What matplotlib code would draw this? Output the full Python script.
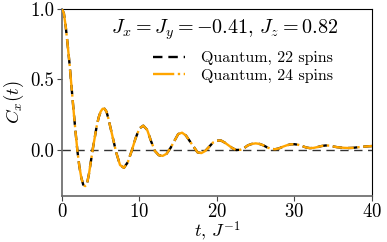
import matplotlib
matplotlib.use("Agg")
import matplotlib.pyplot as plt

plt.rcParams['font.family'] = 'serif'
plt.rcParams['font.serif'] = ['cmr10']
plt.rcParams['mathtext.fontset'] = 'cm'
plt.rcParams['axes.formatter.use_mathtext'] = True
plt.rcParams['axes.unicode_minus'] = True

t = [0, 0.25, 0.5, 0.75, 1.0, 1.25, 1.5, 1.75, 2.0, 2.25, 2.5, 2.75, 3.0, 3.25, 3.5, 3.75,
     4.0, 4.25, 4.5, 4.75, 5.0, 5.25, 5.5, 5.75, 6.0, 6.5, 7.0, 7.5, 8.0, 8.5, 9.0, 9.5,
     10.0, 10.5, 11.0, 11.5, 12.0, 12.5, 13.0, 13.5, 14.0, 14.5, 15.0, 15.5, 16.0, 16.5,
     17.0, 17.5, 18.0, 18.5, 19.0, 19.5, 20.0, 20.5, 21.0, 21.5, 22.0, 22.5, 23.0, 23.5,
     24.0, 24.5, 25.0, 25.5, 26.0, 26.5, 27.0, 27.5, 28.0, 28.5, 29.0, 29.5, 30.0, 30.5,
     31.0, 31.5, 32.0, 32.5, 33.0, 33.5, 34.0, 34.5, 35.0, 35.5, 36.0, 36.5, 37.0, 37.5,
     38.0, 38.5, 39.0, 39.5, 40.0]
c22 = [1.0, 0.97, 0.87, 0.74, 0.60, 0.44, 0.28, 0.13, -0.01, -0.12, -0.20, -0.25, -0.26,
       -0.24, -0.17, -0.08, 0.01, 0.09, 0.17, 0.23, 0.27, 0.29, 0.29, 0.27, 0.22, 0.10,
       -0.02, -0.11, -0.13, -0.09, -0.01, 0.08, 0.15, 0.17, 0.14, 0.06, -0.01, -0.04,
       -0.045, -0.03, 0.01, 0.06, 0.11, 0.12, 0.10, 0.06, 0.02, -0.02, -0.025, -0.01,
       0.02, 0.05, 0.063, 0.065, 0.05, 0.03, 0.01, -0.003, -0.002, 0.01, 0.03, 0.04,
       0.042, 0.04, 0.03, 0.015, 0.005, 0.002, 0.008, 0.02, 0.03, 0.037, 0.038, 0.034,
       0.025, 0.015, 0.01, 0.012, 0.018, 0.025, 0.029, 0.027, 0.022, 0.017, 0.014, 0.012,
       0.011, 0.012, 0.015, 0.018, 0.021, 0.023, 0.025]
c24 = [1.0, 0.97, 0.87, 0.74, 0.60, 0.44, 0.28, 0.13, -0.01, -0.12, -0.20, -0.25, -0.26,
       -0.24, -0.17, -0.08, 0.01, 0.09, 0.17, 0.23, 0.27, 0.29, 0.29, 0.27, 0.22, 0.10,
       -0.02, -0.11, -0.13, -0.09, -0.01, 0.08, 0.15, 0.17, 0.14, 0.06, -0.01, -0.04,
       -0.045, -0.03, 0.01, 0.06, 0.11, 0.12, 0.10, 0.06, 0.02, -0.02, -0.025, -0.01,
       0.02, 0.05, 0.063, 0.065, 0.05, 0.03, 0.01, -0.003, -0.002, 0.01, 0.03, 0.04,
       0.044, 0.04, 0.03, 0.015, 0.005, 0.002, 0.008, 0.02, 0.03, 0.037, 0.038, 0.034,
       0.025, 0.015, 0.01, 0.012, 0.018, 0.025, 0.03, 0.028, 0.022, 0.017, 0.014, 0.012,
       0.011, 0.012, 0.015, 0.018, 0.021, 0.023, 0.025]

labels = ['Quantum, 22 spins', 'Quantum, 24 spins']
title = r'$J_x = J_y = -0.41,\, J_z = 0.82$'

fig = plt.figure(figsize=(3.87, 2.42), dpi=100)
ax = fig.add_axes([0.160, 0.192, 0.801, 0.771])

ax.axhline(0, color='#333333', lw=1.0, ls=(0, (6, 4)), zorder=1)
l1, = ax.plot(t, c22, color='black', lw=1.7, ls=(0, (4, 2.5)), label=labels[0], zorder=2)
l2, = ax.plot(t, c24, color='#FFA500', lw=1.7, ls=(0, (9, 1.5, 1, 1.5)), label=labels[1], zorder=3)

ax.set_xlim(0, 40)
ax.set_ylim(-0.327, 1.0)
ax.set_xticks([0, 10, 20, 30, 40])
ax.set_yticks([0.0, 0.5, 1.0])
ax.set_yticklabels(['0.0', '0.5', '1.0'])
ax.tick_params(labelsize=13.5, length=3.5, width=0.8, pad=2, color='#444444')
ax.spines['left'].set_color('#666666')
ax.spines['bottom'].set_color('#666666')
ax.spines['left'].set_linewidth(1.2)
ax.spines['bottom'].set_linewidth(1.2)

ax.set_xlabel(r'$t,\, J^{-1}$', fontsize=13, labelpad=-1)
ax.set_ylabel(r'$C_x(t)$', fontsize=13.5, labelpad=3)

ax.text(0.524, 0.866, title, transform=ax.transAxes, fontsize=14.5, ha='center', va='baseline')
ax.legend(handles=[l1, l2], loc='upper left', bbox_to_anchor=(0.294, 0.775), frameon=False,
          fontsize=11.5, handlelength=2.0, handletextpad=1.0, labelspacing=0.2,
          borderaxespad=0, borderpad=0)

fig.savefig('out.png', dpi=100)
